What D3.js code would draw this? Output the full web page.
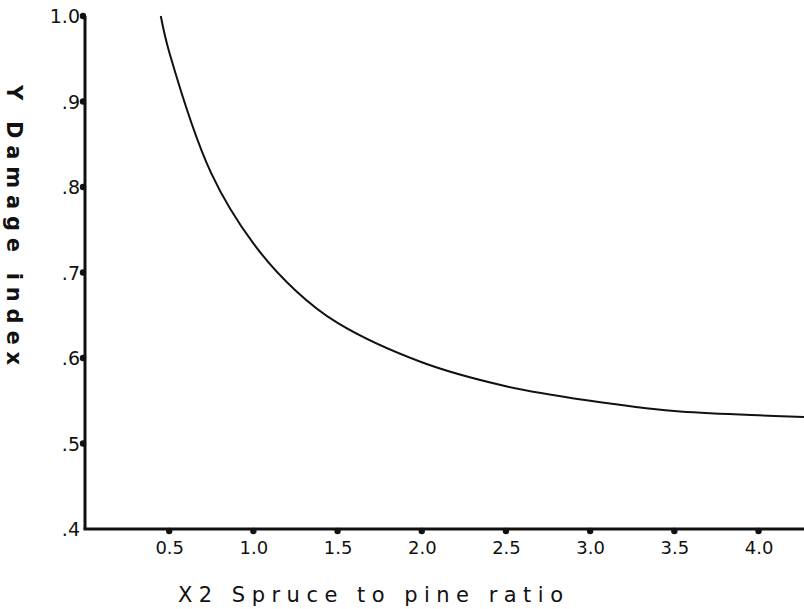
<!DOCTYPE html>
<html>
<head>
<meta charset="utf-8">
<script src="https://cdn.jsdelivr.net/npm/d3@7"></script>
<style>
    body { margin: 0; background: #fff; }
    svg { display: block; }
    text { font-family: "DejaVu Sans", sans-serif; fill: #111; }
</style>
</head>
<body>
<div class="graf"></div>
<script>
// curve
const ratioX = [0.45, 0.5, 0.75, 1.0, 1.25, 1.5, 2.0, 2.5, 3.0, 3.5, 4.0, 4.27];
const damageY = [1.0, 0.958, 0.816, 0.734, 0.679, 0.641, 0.595, 0.567, 0.55, 0.538, 0.533, 0.531];

const xTicks = [0.5, 1.0, 1.5, 2.0, 2.5, 3.0, 3.5, 4.0];
const yTicks = [0.4, 0.5, 0.6, 0.7, 0.8, 0.9, 1.0];
const yTickLabels = [".4", ".5", ".6", ".7", ".8", ".9", "1.0"];

let width = 804;
let height = 609;

let svg = d3.select(".graf")
    .append("svg")
    .attr("width", width)
    .attr("height", height);

let x = d3.scaleLinear()
    .domain([0, 4.27])
    .range([85, 804]);

let y = d3.scaleLinear()
    .domain([0.4, 1.0])
    .range([529, 16]);

// axes
let axisX = d3.axisBottom(x)
    .tickValues(xTicks)
    .tickSize(0)
    .tickPadding(12)
    .tickFormat(d3.format(".1f"));

let gx = svg.append("g")
    .attr("transform", `translate(0, ${y(0.4)})`)
    .call(axisX);
gx.select(".domain").remove();
gx.selectAll("text")
    .attr("font-size", null)
    .style("font-size", "18px")
    .style("font-family", "DejaVu Sans");

let axisY = d3.axisLeft(y)
    .tickValues(yTicks)
    .tickSize(0)
    .tickPadding(4)
    .tickFormat((d, i) => yTickLabels[i]);

let gy = svg.append("g")
    .attr("transform", `translate(${x(0) - 1}, 0)`)
    .call(axisY);
gy.select(".domain").remove();
gy.selectAll("text")
    .style("font-size", "19px")
    .style("font-family", "DejaVu Sans")
    .attr("dy", "0.35em");

// axis lines
svg.append("line")
    .attr("x1", x(0)).attr("x2", x(0))
    .attr("y1", y(1.0)).attr("y2", y(0.4))
    .attr("stroke", "#111").attr("stroke-width", 3);

svg.append("line")
    .attr("x1", x(0) - 1.5).attr("x2", width)
    .attr("y1", y(0.4)).attr("y2", y(0.4))
    .attr("stroke", "#111").attr("stroke-width", 3);

// tick dots
svg.append("g").selectAll("circle")
    .data(xTicks)
    .enter().append("circle")
    .attr("cx", d => x(d))
    .attr("cy", y(0.4) + 2)
    .attr("r", 3.2)
    .attr("fill", "#111");

svg.append("g").selectAll("circle")
    .data(yTicks.slice(1))
    .enter().append("circle")
    .attr("cx", x(0) - 2)
    .attr("cy", d => y(d))
    .attr("r", 3.2)
    .attr("fill", "#111");

// curve
let pts = ratioX.map((d, i) => [d, damageY[i]]);
svg.append("path")
    .datum(pts)
    .attr("fill", "none")
    .attr("stroke", "#111")
    .attr("stroke-width", 2)
    .attr("d", d3.line()
        .x(d => x(d[0]))
        .y(d => y(d[1]))
        .curve(d3.curveCatmullRom.alpha(0.5)));

// titles
svg.append("text")
    .attr("x", 178)
    .attr("y", 602)
    .attr("textLength", 385)
    .attr("lengthAdjust", "spacing")
    .style("font-size", "21px")
    .text("X2 Spruce to pine ratio");

svg.append("text")
    .attr("transform", "translate(7, 85) rotate(90)")
    .attr("textLength", 280)
    .attr("lengthAdjust", "spacing")
    .style("font-size", "21px")
    .style("font-weight", "bold")
    .text("Y Damage index");
</script>
</body>
</html>
